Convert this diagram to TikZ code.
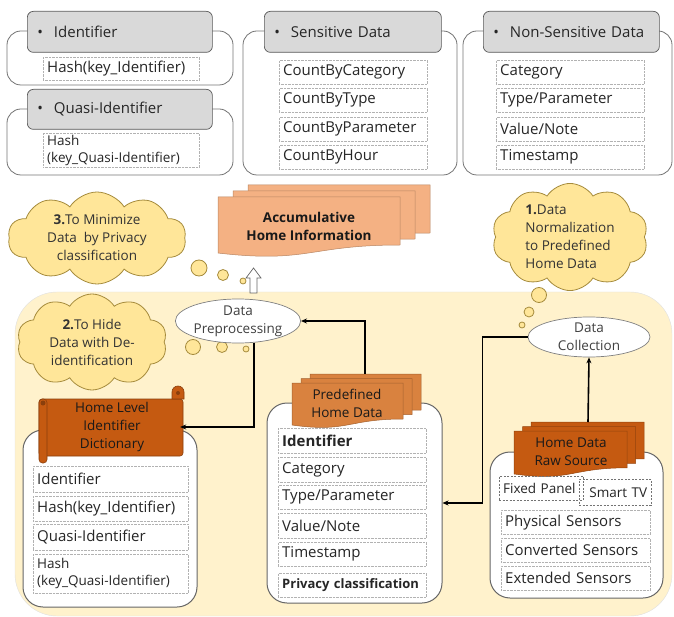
\documentclass[tikz,border=0pt]{standalone}
\usepackage{fontspec}
\setmainfont{Open Sans}
\usepackage{tikz}
\usetikzlibrary{arrows.meta}
\usetikzlibrary{shapes.geometric}
\usetikzlibrary{shapes.symbols}
\usetikzlibrary{calc}

\definecolor{panelbg}{HTML}{FFF2CC}
\definecolor{headfill}{HTML}{D9D9D9}
\definecolor{thoughtfill}{HTML}{FFE699}
\definecolor{thoughtline}{HTML}{A58B3C}
\definecolor{accumfill}{HTML}{F4B183}
\definecolor{predeffill}{HTML}{D9823F}
\definecolor{rustfill}{HTML}{C55A11}

% one sheet with a wavy bottom, #1 = top left corner
\newcommand{\wavedoc}[4]{%
  \begin{scope}[shift={#1}]
    \draw[draw=#4!75!black, line width=0.5pt, fill=#4] (0,0) -- (#2,0) -- (#2,0.8*#3)
      .. controls (0.5*#2,0.8*#3) and (0.5*#2,1.107*#3) .. (0,0.934*#3) -- cycle;
  \end{scope}}
% three sheets, back to front
\newcommand{\docstack}[7]{%
  \wavedoc{(#1+2*#5,#2-2*#6)}{#3}{#4}{#7}
  \wavedoc{(#1+#5,#2-#6)}{#3}{#4}{#7}
  \wavedoc{(#1,#2)}{#3}{#4}{#7}}

\begin{document}
\begin{tikzpicture}[
    x=1pt, y=-1pt,
    every node/.style={text=black!85, font=\fontsize{15}{18}\selectfont},
    groupbox/.style={draw=black!55, line width=0.8pt, rounded corners=14pt},
    headbox/.style={draw=black!65, fill=headfill, line width=0.7pt, rounded corners=6pt,
      anchor=north west, minimum height=41pt, text width=#1, inner xsep=10pt, align=left},
    itembox/.style={draw=black!30, densely dotted, fill=white, anchor=north west,
      text width=#1, inner xsep=4pt, inner ysep=1pt, align=left},
    markbox/.style={draw=black!55, dash pattern=on 2pt off 1.5pt, anchor=north west,
      text width=#1, inner xsep=4pt, inner ysep=1pt, align=left,
      font=\fontsize{13.5}{16}\selectfont},
    panel/.style={draw=black!60, fill=white, line width=1pt, rounded corners=20pt},
    thought/.style={cloud, cloud puffs=10, cloud puff arc=115, cloud ignores aspect,
      draw=thoughtline, fill=thoughtfill, line width=0.8pt, inner sep=0pt,
      text=black!80, font=\fontsize{13.5}{18}\selectfont},
    bubble/.style={draw=thoughtline, fill=thoughtfill, line width=0.8pt},
    procell/.style={ellipse, draw=black!50, fill=white, line width=0.7pt, inner sep=0pt,
      align=center, text=black!75, font=\fontsize{13.5}{18}\selectfont},
    scrollpart/.style={draw=rustfill!70!black, line width=0.6pt, fill=rustfill},
    doctext/.style={align=center, text=black!90, font=\fontsize{13.5}{18}\selectfont},
    flow/.style={line width=1.6pt, -{Stealth[length=6pt,width=5pt]}}
    ]
    \useasboundingbox (0,0) rectangle (674,617);

    % privacy groups
    \draw[groupbox] (7,31) rectangle (233,85);
    \node[headbox=165pt] (identHead) at (27,11) {\textbullet\hspace{11pt}Identifier};
    \node[itembox=148pt, minimum height=23pt] (identHash) at (43,57) {Hash(key\_Identifier)};

    \draw[groupbox] (7,109) rectangle (233,175);
    \node[headbox=165pt, minimum height=40pt] (quasiHead) at (27,89) {\textbullet\hspace{11pt}Quasi-Identifier};
    \node[itembox=148pt, minimum height=34pt, font=\fontsize{13.5}{17}\selectfont] (quasiHash) at (43,133) {Hash\\(key\_Quasi-Identifier)};

    \draw[groupbox] (243,31) rectangle (457,175);
    \node[headbox=157pt] (sensHead) at (264,11) {\textbullet\hspace{11pt}Sensitive Data};
    \node[itembox=140pt, minimum height=24pt] (sens1) at (279,60) {CountByCategory};
    \node[itembox=140pt, minimum height=24pt] (sens2) at (279,88) {CountByType};
    \node[itembox=140pt, minimum height=24pt] (sens3) at (279,117) {CountByParameter};
    \node[itembox=140pt, minimum height=24pt] (sens4) at (279,145) {CountByHour};

    \draw[groupbox] (463,31) rectangle (672,175);
    \node[headbox=156pt] (nonHead) at (483,11) {\textbullet\hspace{11pt}Non-Sensitive Data};
    \node[itembox=140pt, minimum height=24pt] (non1) at (496,60) {Category};
    \node[itembox=140pt, minimum height=24pt] (non2) at (496,88) {Type/Parameter};
    \node[itembox=140pt, minimum height=24pt] (non3) at (496,117) {Value/Note};
    \node[itembox=140pt, minimum height=24pt] (non4) at (496,145) {Timestamp};

    % middle row
    \node[thought, minimum width=178pt, minimum height=92pt, align=center] (cloudMin) at (97,238)
      {\textbf{3.}To Minimize\\Data\ \ by Privacy\\classification};
    \draw[bubble] (199,268) circle[radius=8pt];
    \draw[bubble] (223,275) circle[radius=5.5pt];
    \draw[bubble] (243,281) circle[radius=3pt];

    \docstack{218}{197}{182}{60}{15}{6}{accumfill}
    \node[doctext, font=\bfseries\fontsize{13.5}{18}\selectfont] (accum) at (309,226) {Accumulative\\Home Information};

    \node[thought, minimum width=156pt, minimum height=92pt, align=left] (cloudNorm) at (570,237)
      {\textbf{1.}Data\\Normalization\\to Predefined\\Home Data};

    % home side
    \draw[draw=black!12, fill=panelbg, rounded corners=42pt] (15,292) rectangle (672,616);
    \draw[draw=black!60, fill=white, line width=0.7pt] (250,293) -- (250,278) -- (246,278)
      -- (253.5,268) -- (261,278) -- (257,278) -- (257,293) -- cycle;
    \draw[bubble] (539,295) circle[radius=7.5pt];
    \draw[bubble] (529,312) circle[radius=5pt];
    \draw[bubble] (522,325) circle[radius=3pt];

    \node[thought, minimum width=150pt, minimum height=96pt, align=center] (cloudHide) at (92,342)
      {\textbf{2.}To Hide\\Data with De-\\identification};
    \draw[bubble] (193,347) circle[radius=7.5pt];
    \draw[bubble] (222,347) circle[radius=5.5pt];
    \draw[bubble] (246,349) circle[radius=3pt];

    \node[procell, minimum width=118pt, minimum height=44pt] (prep) at (238,321) {Data\\Preprocessing};
    \node[procell, minimum width=122pt, minimum height=40pt] (collect) at (589,337) {Data\\Collection};

    % dictionary
    \draw[panel] (23,430) rectangle (197,607);
    \draw[scrollpart, rounded corners=3pt] (39,399) rectangle (183,456);
    \draw[scrollpart] (172,399) -- (172,392) arc[start angle=180, end angle=0, radius=6pt] -- (184,399) -- cycle;
    \draw[fill=rustfill!70!black, draw=none] (178,393) circle[radius=2pt];
    \draw[scrollpart, rounded corners=3.5pt] (39,399) rectangle (47,463);
    \draw[fill=rustfill!70!black, draw=none] (43,403) circle[radius=2.5pt];
    \node[doctext, minimum width=136pt, minimum height=56pt] (dict) at (112,427) {Home Level\\Identifier\\Dictionary};
    \node[itembox=147pt, minimum height=26pt] (dict1) at (33,466) {Identifier};
    \node[itembox=147pt, minimum height=25pt] (dict2) at (33,496) {Hash(key\_Identifier)};
    \node[itembox=147pt, minimum height=26pt] (dict3) at (33,524) {Quasi-Identifier};
    \node[itembox=147pt, minimum height=39pt, font=\fontsize{13.5}{17}\selectfont] (dict4) at (33,554) {Hash\\(key\_Quasi-Identifier)};

    % predefined home data
    \node[panel, minimum width=175pt, minimum height=200pt] (predefBox) at (354.5,503) {};
    \docstack{292}{383}{111}{45}{9}{4.5}{predeffill}
    \node[doctext] (predefData) at (347,403) {Predefined\\Home Data};
    \coordinate (predefTop) at (365,374);
    \node[itembox=140pt, minimum height=25pt, font=\bfseries\fontsize{15}{18}\selectfont] (pre1) at (278,428) {Identifier};
    \node[itembox=140pt, minimum height=25pt] (pre2) at (278,457) {Category};
    \node[itembox=140pt, minimum height=24pt] (pre3) at (278,485) {Type/Parameter};
    \node[itembox=140pt, minimum height=25pt] (pre4) at (278,513) {Value/Note};
    \node[itembox=140pt, minimum height=24pt] (pre5) at (278,542) {Timestamp};
    \node[itembox=140pt, minimum height=24pt, font=\bfseries\fontsize{13}{16}\selectfont] (pre6) at (278,573) {Privacy classification};

    % raw source
    \node[panel, minimum width=173pt, minimum height=146pt] (rawBox) at (576.5,525) {};
    \docstack{514}{431}{113}{46}{8.5}{4.5}{rustfill}
    \node[doctext] (rawData) at (571,452) {Home Data\\Raw Source};
    \coordinate (rawTop) at (588,422);
    \node[markbox=76pt, minimum height=24pt] (fixed) at (499,476) {Fixed Panel};
    \node[markbox=64pt, minimum height=26pt] (smart) at (579,479) {\hfill Smart TV};
    \node[itembox=141pt, minimum height=24pt] (raw1) at (501,510) {Physical Sensors};
    \node[itembox=141pt, minimum height=24pt] (raw2) at (501,538) {Converted Sensors};
    \node[itembox=141pt, minimum height=24pt] (raw3) at (501,566) {Extended Sensors};

    % data flow
    \draw[flow] (rawTop) -- (collect.south);
    \draw[flow] (collect.west) -- ++(-45,0) |- (predefBox.east);
    \draw[flow] (predefTop) |- (prep.east);
    \draw[flow] ([xshift=16pt]prep.south) |- (dict.east);
\end{tikzpicture}
\end{document}
